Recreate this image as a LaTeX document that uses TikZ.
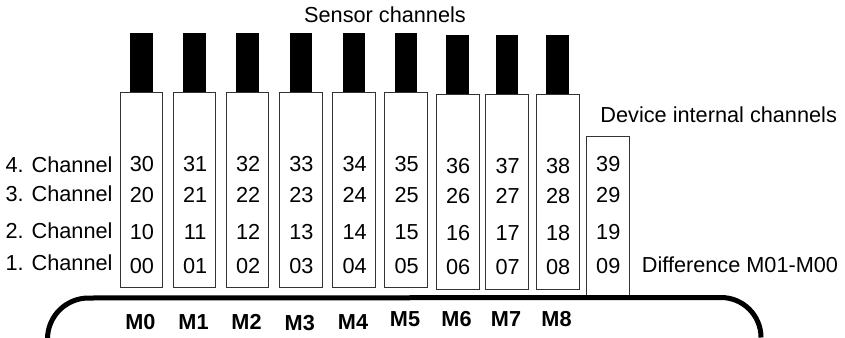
\documentclass[tikz,border=0pt]{standalone}
\usepackage{fontspec}
\setmainfont{Liberation Sans}
\begin{document}
\begin{tikzpicture}[x=1pt,y=-1pt,
  txt/.style={font=\fontsize{21.7}{24}\selectfont, inner sep=0pt, text=black},
  btxt/.style={font=\fontsize{21.7}{24}\selectfont\bfseries, inner sep=0pt, text=black},
  modbox/.style={draw=black!80, line width=0.9pt, fill=white},
  sensorblk/.style={fill=black, draw=none},
  bus/.style={line width=5pt, black}]
\useasboundingbox (0,0) rectangle (845,337);
% sensor modules
\foreach \i/\l/\r/\dy/\my in {0/120/162.7/0/322.5, 1/173.3/215.7/0/322, 2/226.3/268.7/0/322, 3/279.3/322.3/0/323, 4/332.3/375.7/0/321.7, 5/384.3/427.7/0/319, 6/436/479/1.4/319, 7/485.7/528.3/1.4/319, 8/536/579/1.4/319}{
  \pgfmathsetmacro{\c}{(\l+\r)/2}
  \fill[sensorblk] (\c-11.2,33.3+\dy) rectangle (\c+11.2,92.7+\dy);
  \coordinate (sensor\i) at (\c,33.3+\dy);
  \draw[modbox] (\l,92.7+\dy) rectangle (\r,287.7+\dy);
  \coordinate (box\i) at (\c,190+\dy);
  \node[txt] (n3\i) at (\c+0.6,164.2+\dy) {3\i};
  \node[txt] (n2\i) at (\c+0.6,194.7+\dy) {2\i};
  \node[txt] (n1\i) at (\c+0.6,231.7+\dy) {1\i};
  \node[txt] (n0\i) at (\c+0.6,266+\dy) {0\i};
  \node[btxt] (m\i) at (\c-1,\my) {M\i};
}
% internal channels box
\draw[modbox] (586.7,136.7) rectangle (629.7,296);
\node[txt] (n39) at (608.3,164.2) {39};
\node[txt] (n29) at (608.3,194.7) {29};
\node[txt] (n19) at (608.3,231.7) {19};
\node[txt] (n09) at (608.3,266) {09};
% labels
\node[txt, anchor=east] (c4) at (112.7,164.5) {4. Channel};
\node[txt, anchor=east] (c3) at (112.7,194) {3. Channel};
\node[txt, anchor=east] (c2) at (112.7,231) {2. Channel};
\node[txt, anchor=east] (c1) at (112.7,262.5) {1. Channel};
\node[txt] (title) at (385,15) {Sensor channels};
\node[txt] (dev) at (718.7,115) {Device internal channels};
\node[txt] (diff) at (740,265) {Difference M01-M00};
% bus
\coordinate (busL) at (47.5,339);
\coordinate (busR) at (761,339);
\draw[bus] (busL) arc[start angle=180, end angle=270, radius=41] -- (721,297.5) arc[start angle=270, end angle=360, radius=40];
\end{tikzpicture}
\end{document}
